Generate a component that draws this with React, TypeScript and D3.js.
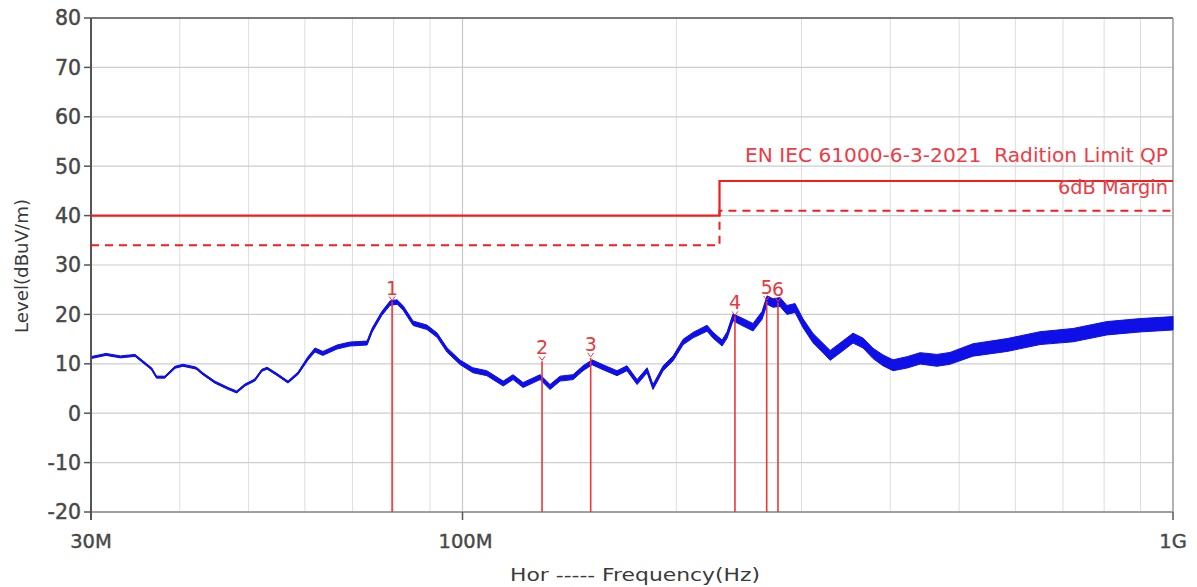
import React, { useEffect } from "react";
import * as d3 from "d3";

// ---- data ----
const yTicks = [80, 70, 60, 50, 40, 30, 20, 10, 0, -10, -20];
const xTickLabels = [
  { f: 30, label: "30M" },
  { f: 100, label: "100M" },
  { f: 1000, label: "1G" },
];
const gridFreqs = [40, 50, 60, 70, 80, 90, 200, 300, 400, 500, 600, 700, 800, 900];

// trace: frequency (MHz), level (dBuV/m), noise spread (dB, total thickness)
const traceFreq = [
  30.1, 31.5, 33.0, 34.6, 36.5, 37.1, 38.1, 39.4, 40.4, 42.0, 42.3, 43.0, 44.8, 46.8, 48.1, 49.4, 51.0, 52.2,
  53.1, 55.0, 56.8, 58.7, 60.6, 62.0, 63.6, 66.6, 69.4, 73.4, 74.6, 77.0, 79.1, 80.9, 82.5, 85.2,
  89.1, 92.1, 95.1, 99.2, 103.4, 108.2, 114.1, 117.8, 121.7, 128.6, 132.8, 137.2, 143.1, 147.8,
  152.2, 157.7, 165.0, 170.4, 176.1, 181.9, 185.4, 191.6, 197.9, 204.4, 211.1, 220.9, 225.2,
  231.9, 235.7, 240.3, 248.2, 256.4, 264.0, 268.3, 273.6, 279.9, 286.2, 293.8, 301.5, 311.4,
  321.6, 329.2, 339.9, 354.5, 366.2, 378.3, 390.7, 403.6, 422.5, 440.7, 465.4, 485.4, 522.9,
  584.2, 650.0, 723.4, 807.6, 899.2, 1000,
];
const traceLevel = [
  11.3, 11.9, 11.4, 11.7, 9.0, 7.3, 7.3, 9.3, 9.7, 9.2, 9.0, 8.1, 6.3, 5.0, 4.3, 5.7, 6.7, 8.7,
  9.1, 7.7, 6.3, 8.1, 11.1, 12.8, 12.1, 13.4, 14.0, 14.2, 16.8, 20.2, 22.3, 22.5, 21.3, 18.2,
  17.4, 15.8, 12.8, 10.3, 8.7, 8.1, 6.0, 7.3, 5.7, 7.3, 5.3, 7.0, 7.3, 9.1,
  10.3, 9.3, 8.1, 9.1, 6.3, 8.7, 5.3, 9.1, 11.1, 14.4, 15.8, 17.2, 15.8,
  14.2, 15.8, 19.4, 18.4, 17.4, 19.8, 22.9, 22.3, 22.5, 20.9, 21.3, 18.2, 15.2,
  13.2, 11.7, 13.2, 15.2, 14.2, 12.1, 10.7, 9.7, 10.3, 11.1, 10.7, 11.1, 12.8,
  13.8, 15.2, 15.8, 17.2, 17.8, 18.2,
];
const traceSpread = [
  0.4, 0.4, 0.4, 0.4, 0.4, 0.4, 0.4, 0.4, 0.4, 0.4, 0.4, 0.4, 0.4, 0.4, 0.4, 0.4, 0.4, 0.4,
  0.4, 0.4, 0.4, 0.5, 0.7, 0.8, 0.8, 0.8, 0.8, 0.8, 0.8, 0.8, 0.9, 0.9, 0.9, 0.9,
  0.9, 0.9, 0.9, 0.9, 1.0, 1.0, 1.0, 1.0, 1.0, 1.0, 1.0, 1.0, 1.0, 1.0,
  1.0, 1.0, 1.0, 1.0, 1.0, 1.0, 1.0, 1.0, 1.0, 1.1, 1.1, 1.2, 1.2,
  1.2, 1.3, 1.4, 1.5, 1.5, 1.6, 1.7, 1.7, 1.8, 1.8, 1.8, 1.8, 1.9,
  1.9, 2.0, 2.0, 2.0, 2.0, 2.1, 2.2, 2.2, 2.3, 2.3, 2.4, 2.4, 2.5,
  2.6, 2.6, 2.7, 2.7, 2.7, 2.7,
];

const limitFreqs = [30, 230, 230, 1000];
const limitLevels = [40, 40, 47, 47];
const marginDb = 6;

const markerIds = ["1", "2", "3", "4", "5", "6"];
const markerFreq = [79.6, 129.4, 151.5, 241.8, 268.0, 278.0];
const markerLevel = [22.6, 10.5, 11.2, 19.6, 22.7, 22.4];

const legendLimit = "EN IEC 61000-6-3-2021  Radition Limit QP";
const legendMargin = "6dB Margin";
const yTitle = "Level(dBuV/m)";
const xTitle = "Hor ----- Frequency(Hz)";

// ---- layout ----
const W = 1197;
const H = 587;
const left = 91;
const right = 1173;
const top = 18;
const bottom = 512;

const FONT = "'DejaVu Sans', Verdana, sans-serif";

export default function App() {
  useEffect(() => {
    document.body.style.margin = "0";
  }, []);

  const x = d3.scaleLog().domain([30, 1000]).range([left, right]);
  const y = d3.scaleLinear().domain([-20, 80]).range([bottom, top]);

  const pts = traceFreq.map((f, i) => ({ f, v: traceLevel[i], s: traceSpread[i] }));
  const line = d3
    .line<{ f: number; v: number }>()
    .x((d) => x(d.f))
    .y((d) => y(d.v));
  const band = d3
    .area<{ f: number; v: number; s: number }>()
    .x((d) => x(d.f))
    .y0((d) => y(d.v - d.s / 2))
    .y1((d) => y(d.v + d.s / 2));

  const lim = limitFreqs.map((f, i) => ({ f, v: limitLevels[i] }));
  const mar = limitFreqs.map((f, i) => ({ f, v: limitLevels[i] - marginDb }));

  const red = "#f21d1d";
  const markerRed = "#e8383a";
  const blue = "#0f0fe8";
  const tickColor = "#474747";

  return (
    <svg width={W} height={H} style={{ display: "block", background: "#fff" }}>
      {/* grid */}
      {gridFreqs.map((f) => (
        <line key={"gv" + f} x1={x(f)} x2={x(f)} y1={top} y2={bottom} stroke="#dedede" strokeWidth={1} />
      ))}
      <line x1={x(100)} x2={x(100)} y1={top} y2={bottom} stroke="#c8c8c8" strokeWidth={1.2} />
      {yTicks.map((t) => (
        <line key={"gh" + t} x1={left} x2={right} y1={y(t)} y2={y(t)} stroke="#cdcdcd" strokeWidth={1.2} />
      ))}

      {/* frame */}
      <line x1={left} x2={right} y1={top} y2={top} stroke="#555" strokeWidth={1.5} />
      <line x1={right} x2={right} y1={top} y2={bottom} stroke="#999" strokeWidth={1.5} />
      <line x1={left} x2={right} y1={bottom} y2={bottom} stroke="#888" strokeWidth={1.5} />
      <line x1={left} x2={left} y1={top} y2={bottom + 8} stroke="#555" strokeWidth={2} />

      {/* y ticks */}
      {yTicks.map((t) => (
        <g key={"yt" + t}>
          <line x1={left - 7} x2={left} y1={y(t)} y2={y(t)} stroke="#555" strokeWidth={1.5} />
          <text
            x={left - 10}
            y={y(t)}
            dy="0.36em"
            textAnchor="end"
            fontFamily={FONT}
            fontSize={20.5}
            fill={tickColor}
            stroke={tickColor}
            strokeWidth={0.45}
          >
            {t}
          </text>
        </g>
      ))}

      {/* x ticks */}
      {xTickLabels.map((t) => (
        <g key={"xt" + t.label}>
          <line x1={x(t.f)} x2={x(t.f)} y1={bottom} y2={bottom + 8} stroke="#555" strokeWidth={1.5} />
          <text
            x={x(t.f) + (t.f === 100 ? 3 : 0)}
            y={548}
            textAnchor="middle"
            fontFamily={FONT}
            fontSize={19.5}
            fill={tickColor}
            stroke={tickColor}
            strokeWidth={0.4}
          >
            {t.label}
          </text>
        </g>
      ))}

      {/* titles */}
      <text
        transform={`translate(28,${266}) rotate(-90)`}
        textAnchor="middle"
        fontFamily={FONT}
        fontSize={18.5}
        fill="#3a3a3a"
        textLength={134}
        lengthAdjust="spacingAndGlyphs"
      >
        {yTitle}
      </text>
      <text
        x={635}
        y={581}
        textAnchor="middle"
        fontFamily={FONT}
        fontSize={18.5}
        fill="#3a3a3a"
        textLength={250}
        lengthAdjust="spacingAndGlyphs"
        style={{ whiteSpace: "pre" }}
      >
        {xTitle}
      </text>

      {/* limit lines */}
      <path d={line(lim) || ""} fill="none" stroke={red} strokeWidth={2.2} />
      <path d={line(mar) || ""} fill="none" stroke={red} strokeWidth={2} strokeDasharray="8,6" />

      {/* trace */}
      <path d={band(pts) || ""} fill={blue} stroke={blue} strokeWidth={1} strokeLinejoin="round" />
      <path d={line(pts) || ""} fill="none" stroke={blue} strokeWidth={1.8} strokeLinejoin="round" />

      {/* markers */}
      {markerIds.map((id, i) => {
        const mx = x(markerFreq[i]);
        const my = y(markerLevel[i]);
        return (
          <g key={"m" + id}>
            <line x1={mx} x2={mx} y1={my} y2={bottom} stroke={markerRed} strokeWidth={1.6} />
            <path
              d={`M${mx - 3},${my - 5} L${mx},${my - 1} L${mx + 3},${my - 5}`}
              fill="none"
              stroke={markerRed}
              strokeWidth={1}
            />
            <text
              x={mx}
              y={my - 7}
              textAnchor="middle"
              fontFamily={FONT}
              fontSize={19}
              fill={markerRed}
            >
              {id}
            </text>
          </g>
        );
      })}

      {/* legend texts */}
      <text
        x={1168}
        y={162}
        textAnchor="end"
        fontFamily={FONT}
        fontSize={19}
        fill="#ee3b45"
        textLength={423}
        lengthAdjust="spacingAndGlyphs"
        style={{ whiteSpace: "pre" }}
      >
        {legendLimit}
      </text>
      <text
        x={1168}
        y={194}
        textAnchor="end"
        fontFamily={FONT}
        fontSize={19}
        fill="#ee3b45"
        textLength={110}
        lengthAdjust="spacingAndGlyphs"
      >
        {legendMargin}
      </text>
    </svg>
  );
}
